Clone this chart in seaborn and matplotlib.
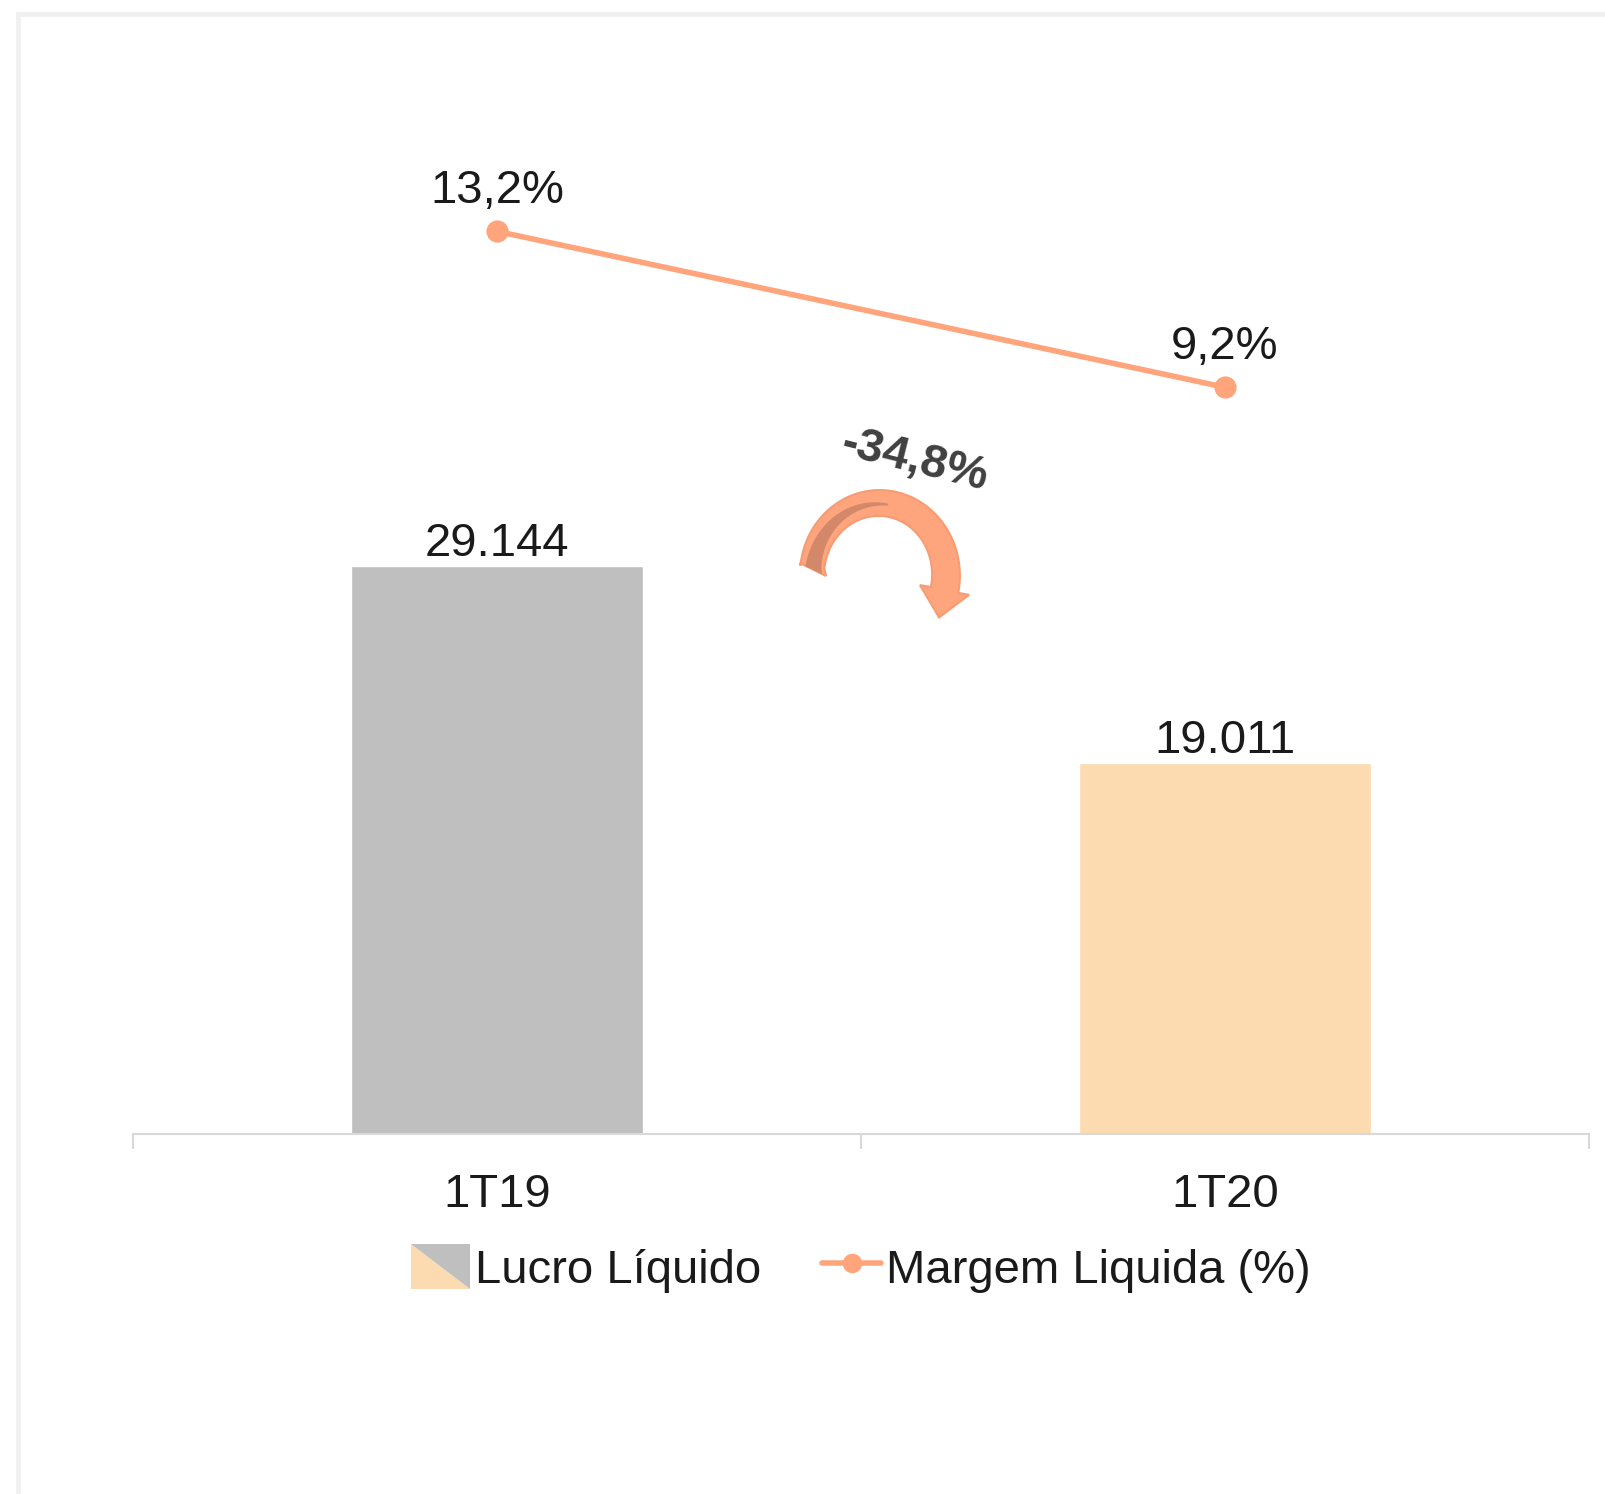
import numpy as np
import pandas as pd
import seaborn as sns
import matplotlib.pyplot as plt
from matplotlib.patches import Patch, Polygon, Rectangle
from matplotlib.lines import Line2D
from matplotlib.legend_handler import HandlerBase

# Data
quarters = ['1T19', '1T20']
lucro = [29144, 19011]
margem = [13.2, 9.2]
lucro_labels = ['29.144', '19.011']
margem_labels = ['13,2%', '9,2%']
variacao = '-34,8%'

bar_colors = ['#bfbfbf', '#fbdbaf']
line_color = '#ffa47b'
text_color = '#1a1a1a'

sns.set_theme(style='white')
plt.rcParams['font.family'] = ['Liberation Sans', 'DejaVu Sans']

df = pd.DataFrame({'quarter': quarters, 'lucro': lucro, 'margem': margem})

fig = plt.figure(figsize=(16.06, 14.94), dpi=100)
W, H = 1606, 1494
ax = fig.add_axes([133 / W, 1 - 1134 / H, 1456 / W, 1084 / H])

# light frame of the original slide
fig.patches.append(Rectangle((18 / W, -0.1), 1.2, 1 - 14 / H + 0.1, transform=fig.transFigure,
                             fill=False, edgecolor='#f0f0f0', linewidth=3.5, zorder=0))

# Bars
sns.barplot(data=df, x='quarter', y='lucro', hue='quarter', palette=bar_colors,
            width=0.4, saturation=1, legend=False, ax=ax)
ax.set_ylim(0, 55600)
for i, (v, lab) in enumerate(zip(lucro, lucro_labels)):
    ax.annotate(lab, (i, v), xytext=(0, 0), textcoords='offset points',
                ha='center', va='bottom', fontsize=34, color=text_color)

# Line on secondary axis
ax2 = ax.twinx()
sns.pointplot(data=df, x='quarter', y='margem', color=line_color, markers='o',
              markersize=13, linewidth=4, ax=ax2)
ax2.set_ylim(-9.95, 17.85)
for i, (v, lab) in enumerate(zip(margem, margem_labels)):
    ax2.annotate(lab, (i, v), xytext=(0, 13), textcoords='offset points',
                 ha='center', va='bottom', fontsize=34, color=text_color)

ax.set_xlim(-0.5, 1.5)
ax2.set_xlim(-0.5, 1.5)

# Axes styling
for a in (ax, ax2):
    for s in ['top', 'right', 'left']:
        a.spines[s].set_visible(False)
    a.set_yticks([])
    a.set_xlabel('')
    a.set_ylabel('')
ax2.spines['bottom'].set_visible(False)
ax.spines['bottom'].set_color('#d9d9d9')
ax.spines['bottom'].set_linewidth(1.5)
ax.set_xticks([-0.5, 0.5, 1.5], minor=True)
ax.tick_params(axis='x', which='minor', bottom=True, length=11, width=1.5,
               color='#d9d9d9', direction='out')
ax.tick_params(axis='x', which='major', bottom=True, length=0, pad=28, labelsize=34,
               labelcolor=text_color)
ax2.tick_params(axis='x', which='both', length=0, labelbottom=False)


# Curved arrow with variation (shape built in pixel space, placed in axes fraction)
def to_ax(pts):
    pts = np.asarray(pts)
    return np.column_stack([(pts[:, 0] - 133) / 1456, (1134 - pts[:, 1]) / 1084])


CX, CY, RX, RY = 879, 575, 67, 72


def arc_band(t0, t1, half0, half1, off=0, n=80):
    t = np.radians(np.linspace(t0, t1, n))
    hw = np.linspace(half0, half1, n)
    outer = np.column_stack([CX + (RX + off + hw) * np.cos(t), CY - (RY + off + hw) * np.sin(t)])
    inner = np.column_stack([CX + (RX + off - hw) * np.cos(t), CY - (RY + off - hw) * np.sin(t)])
    return outer, inner


t_end = -12
outer, inner = arc_band(176, t_end, 12, 14)
outer[0] = [800, 563]
inner[0] = [826, 576]
te = np.radians(t_end)
end = np.array([CX + RX * np.cos(te), CY - RY * np.sin(te)])
tang = np.array([RX * np.sin(te), -RY * np.cos(te)]) * -1
tang = np.array([tang[0], -tang[1]])
tang = tang / np.linalg.norm(tang)
if tang[1] < 0:
    tang = -tang
norm = np.array([tang[1], -tang[0]])
head = np.array([end - norm * 25, end + tang * 28, end + norm * 25])
shape = np.vstack([outer, head[0] if head[0][0] > head[2][0] else head[2],
                   head[1], head[2] if head[0][0] > head[2][0] else head[0], inner[::-1]])
ax.add_patch(Polygon(to_ax(shape), closed=True, transform=ax.transAxes,
                     facecolor='#ffa57d', edgecolor='#f79b73', linewidth=1.5, zorder=5))
o2, i2 = arc_band(174, 82, 8, 1, off=-1)
o2[0] = [805, 566]
i2[0] = [822, 574]
ax.add_patch(Polygon(to_ax(np.vstack([o2, i2[::-1]])), closed=True, transform=ax.transAxes,
                     facecolor='#d4886a', edgecolor='none', zorder=6))

ax.text(*to_ax([[914, 461]])[0], variacao, transform=ax.transAxes, rotation=-14,
        ha='center', va='center', fontsize=34, fontweight='bold', color='#404040')


# Legend with split swatch
class SplitHandler(HandlerBase):
    def create_artists(self, legend, orig_handle, xdescent, ydescent, width, height,
                       fontsize, trans):
        x0, y0 = -xdescent, -ydescent
        lower = Polygon([[x0, y0 + height], [x0, y0], [x0 + width, y0]],
                        closed=True, facecolor=bar_colors[1], edgecolor='none', transform=trans)
        upper = Polygon([[x0, y0 + height], [x0 + width, y0 + height], [x0 + width, y0]],
                        closed=True, facecolor=bar_colors[0], edgecolor='none', transform=trans)
        return [lower, upper]


bar_handle = Patch(facecolor=bar_colors[0])
line_handle = Line2D([], [], color=line_color, marker='o', markersize=13, linewidth=4)
fig.legend([bar_handle, line_handle], ['Lucro Líquido', 'Margem Liquida (%)'],
           handler_map={Patch: SplitHandler()}, loc='center', bbox_to_anchor=(0.536, 0.151),
           ncol=2, frameon=False, fontsize=34, handlelength=1.25, handleheight=1.1,
           handletextpad=0.1, columnspacing=1.3, labelcolor=text_color)

fig.savefig('out.png', dpi=100, facecolor='white')
